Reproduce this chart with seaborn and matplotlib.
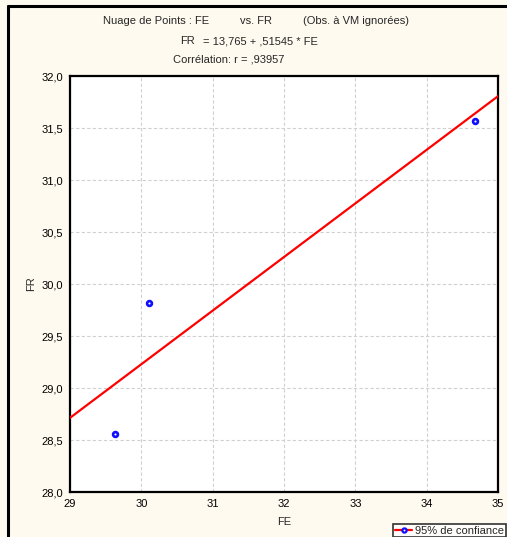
import matplotlib
matplotlib.use("Agg")
import matplotlib.pyplot as plt
import seaborn as sns
import numpy as np
import pandas as pd
from matplotlib.lines import Line2D

# Data
fe_values = [29.63, 30.11, 34.68]
fr_values = [28.56, 29.82, 31.57]
intercept = 13.765
slope = 0.51545
x_ticks = [29, 30, 31, 32, 33, 34, 35]
y_ticks = [28.0, 28.5, 29.0, 29.5, 30.0, 30.5, 31.0, 31.5, 32.0]
y_tick_labels = ["28,0", "28,5", "29,0", "29,5", "30,0", "30,5", "31,0", "31,5", "32,0"]

df = pd.DataFrame({"FE": fe_values, "FR": fr_values})
line_x = [29, 35]
line_df = pd.DataFrame({"FE": line_x, "FR": [intercept + slope * v for v in line_x]})

sns.set_style("white")
plt.rcParams['font.family'] = ['Liberation Sans', 'DejaVu Sans']

W, H = 507, 537
fig = plt.figure(figsize=(W / 100, H / 100), dpi=100)
bg = "#FEFAEF"
fig.patch.set_facecolor(bg)

ax = fig.add_axes([70 / W, 1 - 492 / H, (498 - 70) / W, (492 - 76) / H])
ax.set_facecolor("white")

sns.lineplot(data=line_df, x="FE", y="FR", ax=ax, color="#FF0000", lw=1.6, zorder=3)
sns.scatterplot(data=df, x="FE", y="FR", ax=ax, marker="o", s=12,
                facecolor="white", edgecolor="#1010FF", linewidth=1.9, zorder=4)

ax.set_xlim(29, 35)
ax.set_ylim(28, 32)
ax.set_xticks(x_ticks)
ax.set_xticklabels([str(v) for v in x_ticks])
ax.set_yticks(y_ticks)
ax.set_yticklabels(y_tick_labels)
ax.tick_params(axis="y", direction="out", length=3, width=1, labelsize=8, pad=2, colors="black")
ax.tick_params(axis="x", direction="in", length=2, width=1, labelsize=8, pad=5, colors="black")
ax.grid(True, color="#D0D0D0", linestyle=(0, (3, 2)), lw=0.8)
for sp in ax.spines.values():
    sp.set_color("black")
    sp.set_linewidth(1.6)
ax.set_xlabel("FE", fontsize=8, labelpad=6)
ax.set_ylabel("FR", fontsize=8, labelpad=4)

# Titles
fs = 8
fig.text(103 / W, 1 - 21 / H, "Nuage de Points : FE", fontsize=fs, ha="left", va="center")
fig.text(240 / W, 1 - 21 / H, "vs. FR", fontsize=fs, ha="left", va="center")
fig.text(303 / W, 1 - 21 / H, "(Obs. à VM ignorées)", fontsize=fs, ha="left", va="center")
fig.text(180 / W, 1 - 41 / H, "FR", fontsize=fs, ha="left", va="center")
fig.text(203 / W, 1 - 41 / H, "= 13,765 + ,51545 * FE", fontsize=fs, ha="left", va="center")
fig.text(173 / W, 1 - 60 / H, "Corrélation: r = ,93957", fontsize=fs, ha="left", va="center")

# Figure frame (left and top)
fig.add_artist(Line2D([8 / W, 8 / W], [0, 1 - 6 / H], transform=fig.transFigure, color="black", lw=2.2))
fig.add_artist(Line2D([8 / W, 1], [1 - 6 / H, 1 - 6 / H], transform=fig.transFigure, color="black", lw=2.2))

# Legend
handle = Line2D([], [], color="#FF0000", lw=1.6, marker="o", markersize=3,
                markerfacecolor="white", markeredgecolor="#1010FF", markeredgewidth=1.6)
leg = fig.legend([handle], ["95% de confiance"], loc="upper left",
                 bbox_to_anchor=(393 / W, 1 - 524 / H), bbox_transform=fig.transFigure,
                 fontsize=8, frameon=True, fancybox=False, handlelength=1.6,
                 handletextpad=0.25, borderpad=0.15, borderaxespad=0)
leg.get_frame().set_edgecolor("black")
leg.get_frame().set_linewidth(1.2)
leg.get_frame().set_facecolor("white")

fig.savefig("out.png", dpi=100, facecolor=bg)
